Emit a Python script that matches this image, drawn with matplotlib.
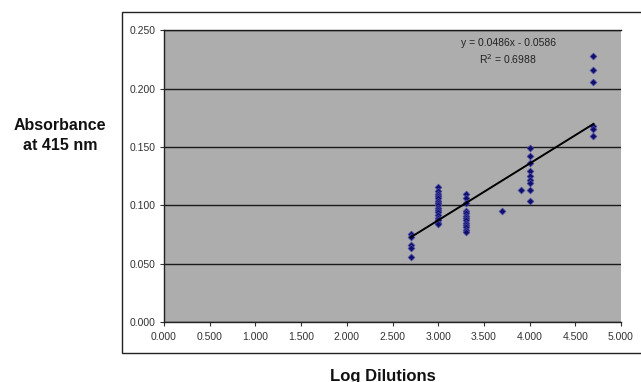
import matplotlib
matplotlib.use("Agg")
import matplotlib.pyplot as plt
from matplotlib.patches import Rectangle
import numpy as np

plt.rcParams['font.family'] = ['Liberation Sans', 'DejaVu Sans']

# Data (Log dilution, absorbance at 415 nm)
log_dilutions = [
    2.699, 2.699, 2.699, 2.699, 2.699,
    3.000, 3.000, 3.000, 3.000, 3.000, 3.000, 3.000, 3.000,
    3.000, 3.000, 3.000, 3.000, 3.000, 3.000, 3.000, 3.000,
    3.301, 3.301, 3.301, 3.301, 3.301, 3.301, 3.301, 3.301,
    3.301, 3.301, 3.301, 3.301, 3.301,
    3.699,
    3.903,
    4.000, 4.000, 4.000, 4.000, 4.000, 4.000, 4.000, 4.000, 4.000,
    4.699, 4.699, 4.699, 4.699, 4.699, 4.699,
]
absorbance = [
    0.075, 0.073, 0.066, 0.063, 0.056,
    0.116, 0.112, 0.110, 0.108, 0.106, 0.104, 0.102, 0.100,
    0.098, 0.096, 0.094, 0.092, 0.089, 0.087, 0.085, 0.084,
    0.110, 0.106, 0.102, 0.095, 0.093, 0.091, 0.089, 0.087,
    0.085, 0.083, 0.081, 0.079, 0.077,
    0.095,
    0.113,
    0.149, 0.142, 0.136, 0.129, 0.125, 0.122, 0.119, 0.113, 0.104,
    0.228, 0.216, 0.206, 0.168, 0.165, 0.159,
]
slope = 0.0486
intercept = -0.0586
r_squared = 0.6988

x_ticks = [0.0, 0.5, 1.0, 1.5, 2.0, 2.5, 3.0, 3.5, 4.0, 4.5, 5.0]
y_ticks = [0.0, 0.05, 0.10, 0.15, 0.20, 0.25]

W, H = 641, 382
fig = plt.figure(figsize=(W / 100, H / 100), dpi=100)
fig.patch.set_facecolor('white')

# outer chart frame
frame = Rectangle((121.7 / W, 1 - 352.7 / H), (660 - 121.7) / W, (352.7 - 12.3) / H,
                  transform=fig.transFigure, facecolor='white', edgecolor='#222222',
                  linewidth=1.0, zorder=-10, clip_on=False)
fig.patches.append(frame)

ax = fig.add_axes([164 / W, 1 - 322 / H, 457 / W, 291.7 / H])
ax.set_zorder(1)
ax.set_facecolor('#adadad')
ax.set_xlim(0, 5)
ax.set_ylim(0, 0.25)
ax.set_xticks(x_ticks)
ax.set_yticks(y_ticks)
ax.set_xticklabels([f"{v:.3f}" for v in x_ticks])
ax.set_yticklabels([f"{v:.3f}" for v in y_ticks])
ax.tick_params(axis='both', labelsize=7.5, colors='#333333', length=3, width=0.8, pad=3)
ax.tick_params(axis='x', pad=4)

for s in ['top', 'right']:
    ax.spines[s].set_visible(False)
for s in ['left', 'bottom']:
    ax.spines[s].set_color('#222222')
    ax.spines[s].set_linewidth(1.0)

ax.yaxis.grid(True, color='#1a1a1a', linewidth=1.0)
ax.set_axisbelow(True)
ax.axhline(0.25, color='#1a1a1a', linewidth=1.0, clip_on=False)

ax.scatter(log_dilutions, absorbance, marker='D', s=12, color='#10106a',
           edgecolors='#4a4aa8', linewidths=0.5, zorder=3)

xmin, xmax = min(log_dilutions), max(log_dilutions)
xs = np.array([xmin, xmax])
ax.plot(xs, slope * xs + intercept, color='black', linewidth=1.4, zorder=4)

ax.text(3.764, 0.239, f"y = {slope:.4f}x - {abs(intercept):.4f}", ha='center', va='center',
        fontsize=7.5, color='#222222')
ax.text(3.764, 0.2254, f"R$^2$ = {r_squared:.4f}", ha='center', va='center',
        fontsize=7.5, color='#222222')

fig.text(60 / W, 1 - 135.5 / H, "Absorbance\nat 415 nm", ha='center', va='center',
         fontsize=11.5, fontweight='bold', linespacing=1.4, color='#111111')
fig.text(383 / W, 1 - 376 / H, "Log Dilutions", ha='center', va='center',
         fontsize=12, fontweight='bold', color='#111111')

fig.savefig('out.png', dpi=100)
